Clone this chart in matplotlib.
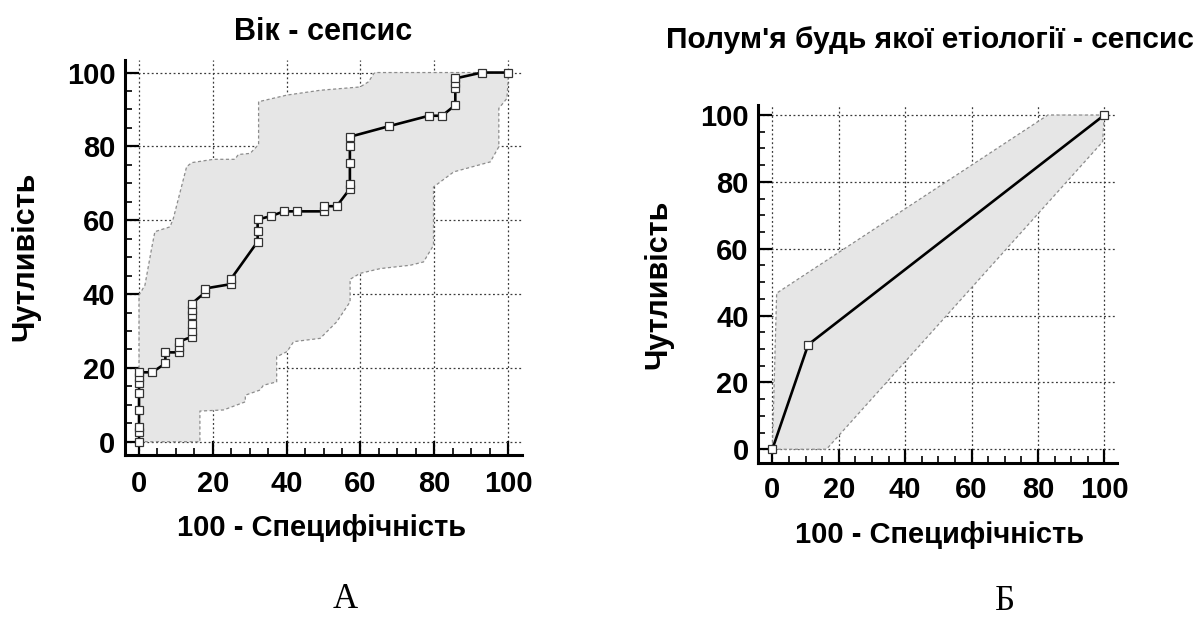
import matplotlib
matplotlib.use("Agg")
import matplotlib.pyplot as plt
from matplotlib.ticker import MultipleLocator

# ---------------- data ----------------
# Left panel: Вік - сепсис (ROC points, 100-specificity vs sensitivity)
roc_a_x = [0, 0, 0, 0, 0, 0, 0, 0,
           3.57, 7.14, 7.14, 10.71, 10.71, 10.71,
           14.29, 14.29, 14.29, 14.29, 14.29, 14.29,
           17.86, 17.86, 25.0, 25.0, 32.14, 32.14, 32.14,
           35.71, 39.29, 42.86, 50.0, 50.0, 53.57,
           57.14, 57.14, 57.14, 57.14, 57.14,
           67.86, 78.57, 82.14, 85.71, 85.71, 85.71, 85.71,
           92.86, 100]
roc_a_y = [0, 2.7, 4.1, 8.6, 13.1, 15.9, 17.6, 18.8,
           18.8, 21.2, 24.2, 24.2, 25.7, 27.1,
           28.4, 30.1, 31.8, 34.3, 35.8, 37.4,
           40.4, 41.5, 42.7, 44.2, 54.2, 57.0, 60.2,
           61.1, 62.4, 62.4, 62.4, 63.8, 63.8,
           68.5, 69.9, 75.5, 80.1, 82.6,
           85.5, 88.3, 88.3, 91.2, 95.7, 97.1, 98.4,
           100, 100]
# confidence band (upper and lower bounds)
ci_a_upper_x = [0, 0, 1.6, 3.4, 4.3, 8.4, 9.3, 12.9, 14.3, 20.2, 26.0, 26.9,
                30.1, 32.4, 32.4, 40.1, 49.1, 59.9, 62.2, 63.6, 64.0, 100]
ci_a_upper_y = [0, 39.7, 42.4, 52.3, 56.9, 58.2, 60.5, 74.5, 75.6, 76.5, 76.5, 77.8,
                78.1, 80.5, 92.1, 93.9, 95.2, 96.1, 97.5, 99.7, 100, 100]
ci_a_lower_x = [0, 16.5, 16.5, 22.9, 28.8, 28.8, 32.8, 33.7, 37.3, 37.3, 40.1,
                41.9, 49.1, 53.6, 57.2, 57.2, 59.9, 65.4, 73.5, 77.1, 79.8,
                79.8, 85.3, 95.2, 97.5, 97.5, 99.7, 100, 100]
ci_a_lower_y = [0, 0, 8.3, 8.6, 10.8, 12.6, 14.0, 15.3, 16.2, 23.0, 24.4,
                27.1, 28.0, 32.5, 37.9, 44.0, 45.6, 46.9, 47.8, 48.7, 53.2,
                69.0, 73.1, 75.8, 79.9, 90.3, 93.0, 97.5, 100]

# Right panel: Полум'я будь якої етіології - сепсис
roc_b_x = [0, 10.8, 100]
roc_b_y = [0, 31.3, 100]
ci_b_upper_x = [0, 1.3, 83.0, 100]
ci_b_upper_y = [0, 46.7, 100, 100]
ci_b_lower_x = [0, 16.3, 99.5, 100]
ci_b_lower_y = [0, 0, 92.0, 100]

ticks = [0, 20, 40, 60, 80, 100]
title_a = "Вік - сепсис"
title_b = "Полум'я будь якої етіології - сепсис"
xlabel = "100 - Специфічність"
ylabel = "Чутливість"
panel_a = "А"
panel_b = "Б"

# ---------------- figure ----------------
W, H = 1203, 623
fig = plt.figure(figsize=(W / 100, H / 100), dpi=100)
SANS = ["Liberation Sans", "DejaVu Sans"]
SERIF = ["Liberation Serif", "DejaVu Serif"]


def px_axes(l, t, r, b):
    return fig.add_axes([l / W, 1 - b / H, (r - l) / W, (b - t) / H])


def style(ax, xlim, ylim, xpad):
    ax.set_xlim(*xlim)
    ax.set_ylim(*ylim)
    ax.set_axisbelow(True)
    for s in ("top", "right"):
        ax.spines[s].set_visible(False)
    for s in ("left", "bottom"):
        ax.spines[s].set_linewidth(2.2)
    ax.set_xticks(ticks)
    ax.set_yticks(ticks)
    ax.xaxis.set_minor_locator(MultipleLocator(5))
    ax.yaxis.set_minor_locator(MultipleLocator(5))
    ax.tick_params(which="major", direction="in", length=10, width=1.6,
                   labelsize=21, pad=7)
    ax.tick_params(which="minor", direction="in", length=5, width=1.2)
    ax.tick_params(axis="x", which="major", pad=xpad)
    for lab in ax.get_xticklabels() + ax.get_yticklabels():
        lab.set_fontfamily(SANS)
        lab.set_fontweight("bold")
    ax.grid(True, which="major", linestyle=(0, (1.5, 2.0)), color="#3a3a3a",
            linewidth=0.9)


def draw(ax, rx, ry, ux, uy, lx, ly, ms):
    poly_x = list(ux) + list(lx)[::-1]
    poly_y = list(uy) + list(ly)[::-1]
    ax.fill(poly_x, poly_y, color="#e6e6e6", zorder=1, linewidth=0)
    ax.plot(ux, uy, color="#8c8c8c", linestyle=(0, (2.5, 2.0)), linewidth=0.9, zorder=2)
    ax.plot(lx, ly, color="#8c8c8c", linestyle=(0, (2.5, 2.0)), linewidth=0.9, zorder=2)
    ax.plot(rx, ry, color="black", linewidth=1.9, marker="s", markersize=ms,
            markerfacecolor="white", markeredgecolor="#333333",
            markeredgewidth=0.9, zorder=3, clip_on=False)


# Left panel
ax1 = px_axes(125, 60, 521.7, 455)
style(ax1, (-3.8, 103.7), (-3.6, 103.4), 11)
draw(ax1, roc_a_x, roc_a_y, ci_a_upper_x, ci_a_upper_y, ci_a_lower_x, ci_a_lower_y, 5.4)

# Right panel
ax2 = px_axes(758.4, 105, 1116.6, 462.8)
style(ax2, (-4.2, 103.7), (-4.05, 103.0), 9.5)
draw(ax2, roc_b_x, roc_b_y, ci_b_upper_x, ci_b_upper_y, ci_b_lower_x, ci_b_lower_y, 6.0)


def ftext(x, y, s, **kw):
    fig.text(x / W, 1 - y / H, s, ha="center", va="center", **kw)


ftext(323, 32, title_a, fontsize=22, fontweight="bold", family=SANS)
ftext(25, 256, ylabel, fontsize=22, fontweight="bold", family=SANS, rotation=90)
ftext(322, 528, xlabel, fontsize=21, fontweight="bold", family=SANS)
ftext(345, 600, panel_a, fontsize=25, family=SERIF)

ftext(930, 40, title_b, fontsize=21.5, fontweight="bold", family=SANS)
ftext(658, 284, ylabel, fontsize=22, fontweight="bold", family=SANS, rotation=90)
ftext(940, 535, xlabel, fontsize=21, fontweight="bold", family=SANS)
ftext(1005, 601, panel_b, fontsize=25, family=SERIF)

fig.savefig("out.png", dpi=100)
